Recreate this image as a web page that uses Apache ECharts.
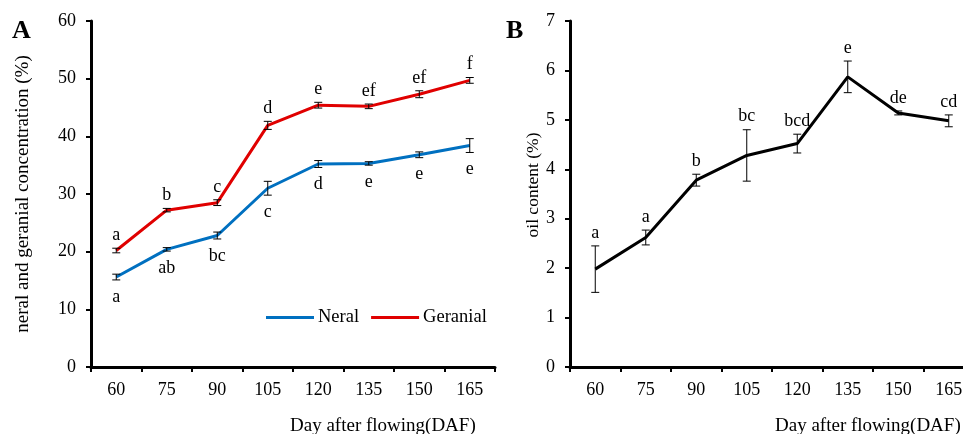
<!DOCTYPE html>
<html><head><meta charset="utf-8">
<script src="https://cdn.jsdelivr.net/npm/echarts@6/dist/echarts.min.js"></script>
<style>html,body{margin:0;padding:0;background:#fff;overflow:hidden}#c{width:980px;height:434px}</style>
</head><body><div id="c"></div>
<script>
const days = ['60','75','90','105','120','135','150','165'];
const neral = [15.6, 20.4, 22.8, 31.0, 35.2, 35.3, 36.8, 38.4];
const neralErr = [0.5, 0.3, 0.6, 1.2, 0.6, 0.3, 0.5, 1.2];
const neralLetters = ['a','ab','bc','c','d','e','e','e'];
const geranial = [20.2, 27.2, 28.5, 41.9, 45.4, 45.2, 47.3, 49.7];
const geranialErr = [0.4, 0.3, 0.5, 0.7, 0.5, 0.4, 0.6, 0.5];
const geranialLetters = ['a','b','c','d','e','ef','ef','f'];
const oil = [1.98, 2.62, 3.78, 4.28, 4.52, 5.87, 5.14, 4.98];
const oilErr = [0.47, 0.15, 0.12, 0.52, 0.19, 0.32, 0.04, 0.12];
const oilLetters = ['a','a','b','bc','bcd','e','de','cd'];
const yTicksA = [0, 10, 20, 30, 40, 50, 60];
const yTicksB = [0, 1, 2, 3, 4, 5, 6, 7];

const FONT = '"Liberation Serif", "Times New Roman", serif';
const chart = echarts.init(document.getElementById('c'));

function errSeries(name, vals, errs, letters, idx, below) {
  return {
    type: 'custom', name: name, xAxisIndex: idx, yAxisIndex: idx, z: 5,
    data: vals.map((v, i) => [i, v - errs[i], v + errs[i]]),
    renderItem: function (params, api) {
      const lo = api.coord([api.value(0), api.value(1)]);
      const hi = api.coord([api.value(0), api.value(2)]);
      const x = lo[0], cw = 4;
      const st = { stroke: '#000', lineWidth: 1 };
      const letter = letters[params.dataIndex];
      return {
        type: 'group', children: [
          { type: 'line', shape: { x1: x, y1: lo[1], x2: x, y2: hi[1] }, style: st },
          { type: 'line', shape: { x1: x - cw, y1: lo[1], x2: x + cw, y2: lo[1] }, style: st },
          { type: 'line', shape: { x1: x - cw, y1: hi[1], x2: x + cw, y2: hi[1] }, style: st },
          { type: 'text', x: x, y: below ? lo[1] + 8 : hi[1] - 4,
            style: { text: letter, fill: '#000', font: '18px ' + FONT, align: 'center',
                     verticalAlign: below ? 'top' : 'bottom' } }
        ]
      };
    }
  };
}

function xAxis(idx) {
  return {
    type: 'category', gridIndex: idx, data: days, boundaryGap: true,
    axisLine: { lineStyle: { color: '#000', width: 3 } },
    axisTick: { show: true, length: 5, lineStyle: { color: '#000', width: 2 } },
    axisLabel: { color: '#000', fontFamily: FONT, fontSize: 18, margin: 14 },
    splitLine: { show: false }
  };
}
function yAxis(idx, max, interval, name, gap, fs, pad) {
  return {
    type: 'value', gridIndex: idx, min: 0, max: max, interval: interval,
    name: name, nameLocation: 'middle', nameGap: gap, nameRotate: 90,
    nameTextStyle: { color: '#000', fontFamily: FONT, fontSize: fs, padding: pad },
    axisLine: { show: true, lineStyle: { color: '#000', width: 3 } },
    axisTick: { show: true, length: 5, lineStyle: { color: '#000', width: 2 } },
    axisLabel: { color: '#000', fontFamily: FONT, fontSize: 18, margin: 15 },
    splitLine: { show: false }
  };
}

chart.setOption({
  animation: false,
  backgroundColor: '#fff',
  grid: [
    { left: 91, right: 485, top: 21, bottom: 67 },
    { left: 570, right: 6, top: 21, bottom: 67 }
  ],
  xAxis: [xAxis(0), xAxis(1)],
  yAxis: [
    yAxis(0, yTicksA[yTicksA.length - 1], 10, 'neral and geranial concentration (%)', 58, 19, [0, 0, 0, 0]),
    yAxis(1, yTicksB[yTicksB.length - 1], 1, 'oil content (%)', 24, 17.5, [0, 0, 0, 18])
  ],
  legend: {
    left: 266, top: 308, padding: 0, icon: 'rect', itemWidth: 48, itemHeight: 3, itemGap: 12,
    data: ['Neral', 'Geranial'],
    textStyle: { color: '#000', fontFamily: FONT, fontSize: 18.5, padding: [0, 0, 0, -1] }
  },
  graphic: [
    { type: 'text', left: 12, top: 18, style: { text: 'A', font: 'bold 26px ' + FONT, fill: '#000' } },
    { type: 'text', left: 506, top: 18, style: { text: 'B', font: 'bold 26px ' + FONT, fill: '#000' } },
    { type: 'text', left: 290, top: 417, style: { text: 'Day after flowing(DAF)', font: '19px ' + FONT, fill: '#000' } },
    { type: 'text', left: 775, top: 417, style: { text: 'Day after flowing(DAF)', font: '19px ' + FONT, fill: '#000' } }
  ],
  series: [
    { name: 'Neral', type: 'line', xAxisIndex: 0, yAxisIndex: 0, data: neral, showSymbol: false,
      color: '#0070C0', lineStyle: { width: 3, color: '#0070C0' }, z: 3 },
    { name: 'Geranial', type: 'line', xAxisIndex: 0, yAxisIndex: 0, data: geranial, showSymbol: false,
      color: '#E00000', lineStyle: { width: 3, color: '#E00000' }, z: 3 },
    { name: 'Oil', type: 'line', xAxisIndex: 1, yAxisIndex: 1, data: oil, showSymbol: false,
      color: '#000', lineStyle: { width: 3, color: '#000' }, z: 3 },
    errSeries('neralErr', neral, neralErr, neralLetters, 0, true),
    errSeries('geranialErr', geranial, geranialErr, geranialLetters, 0, false),
    errSeries('oilErr', oil, oilErr, oilLetters, 1, false)
  ]
});
</script></body></html>
